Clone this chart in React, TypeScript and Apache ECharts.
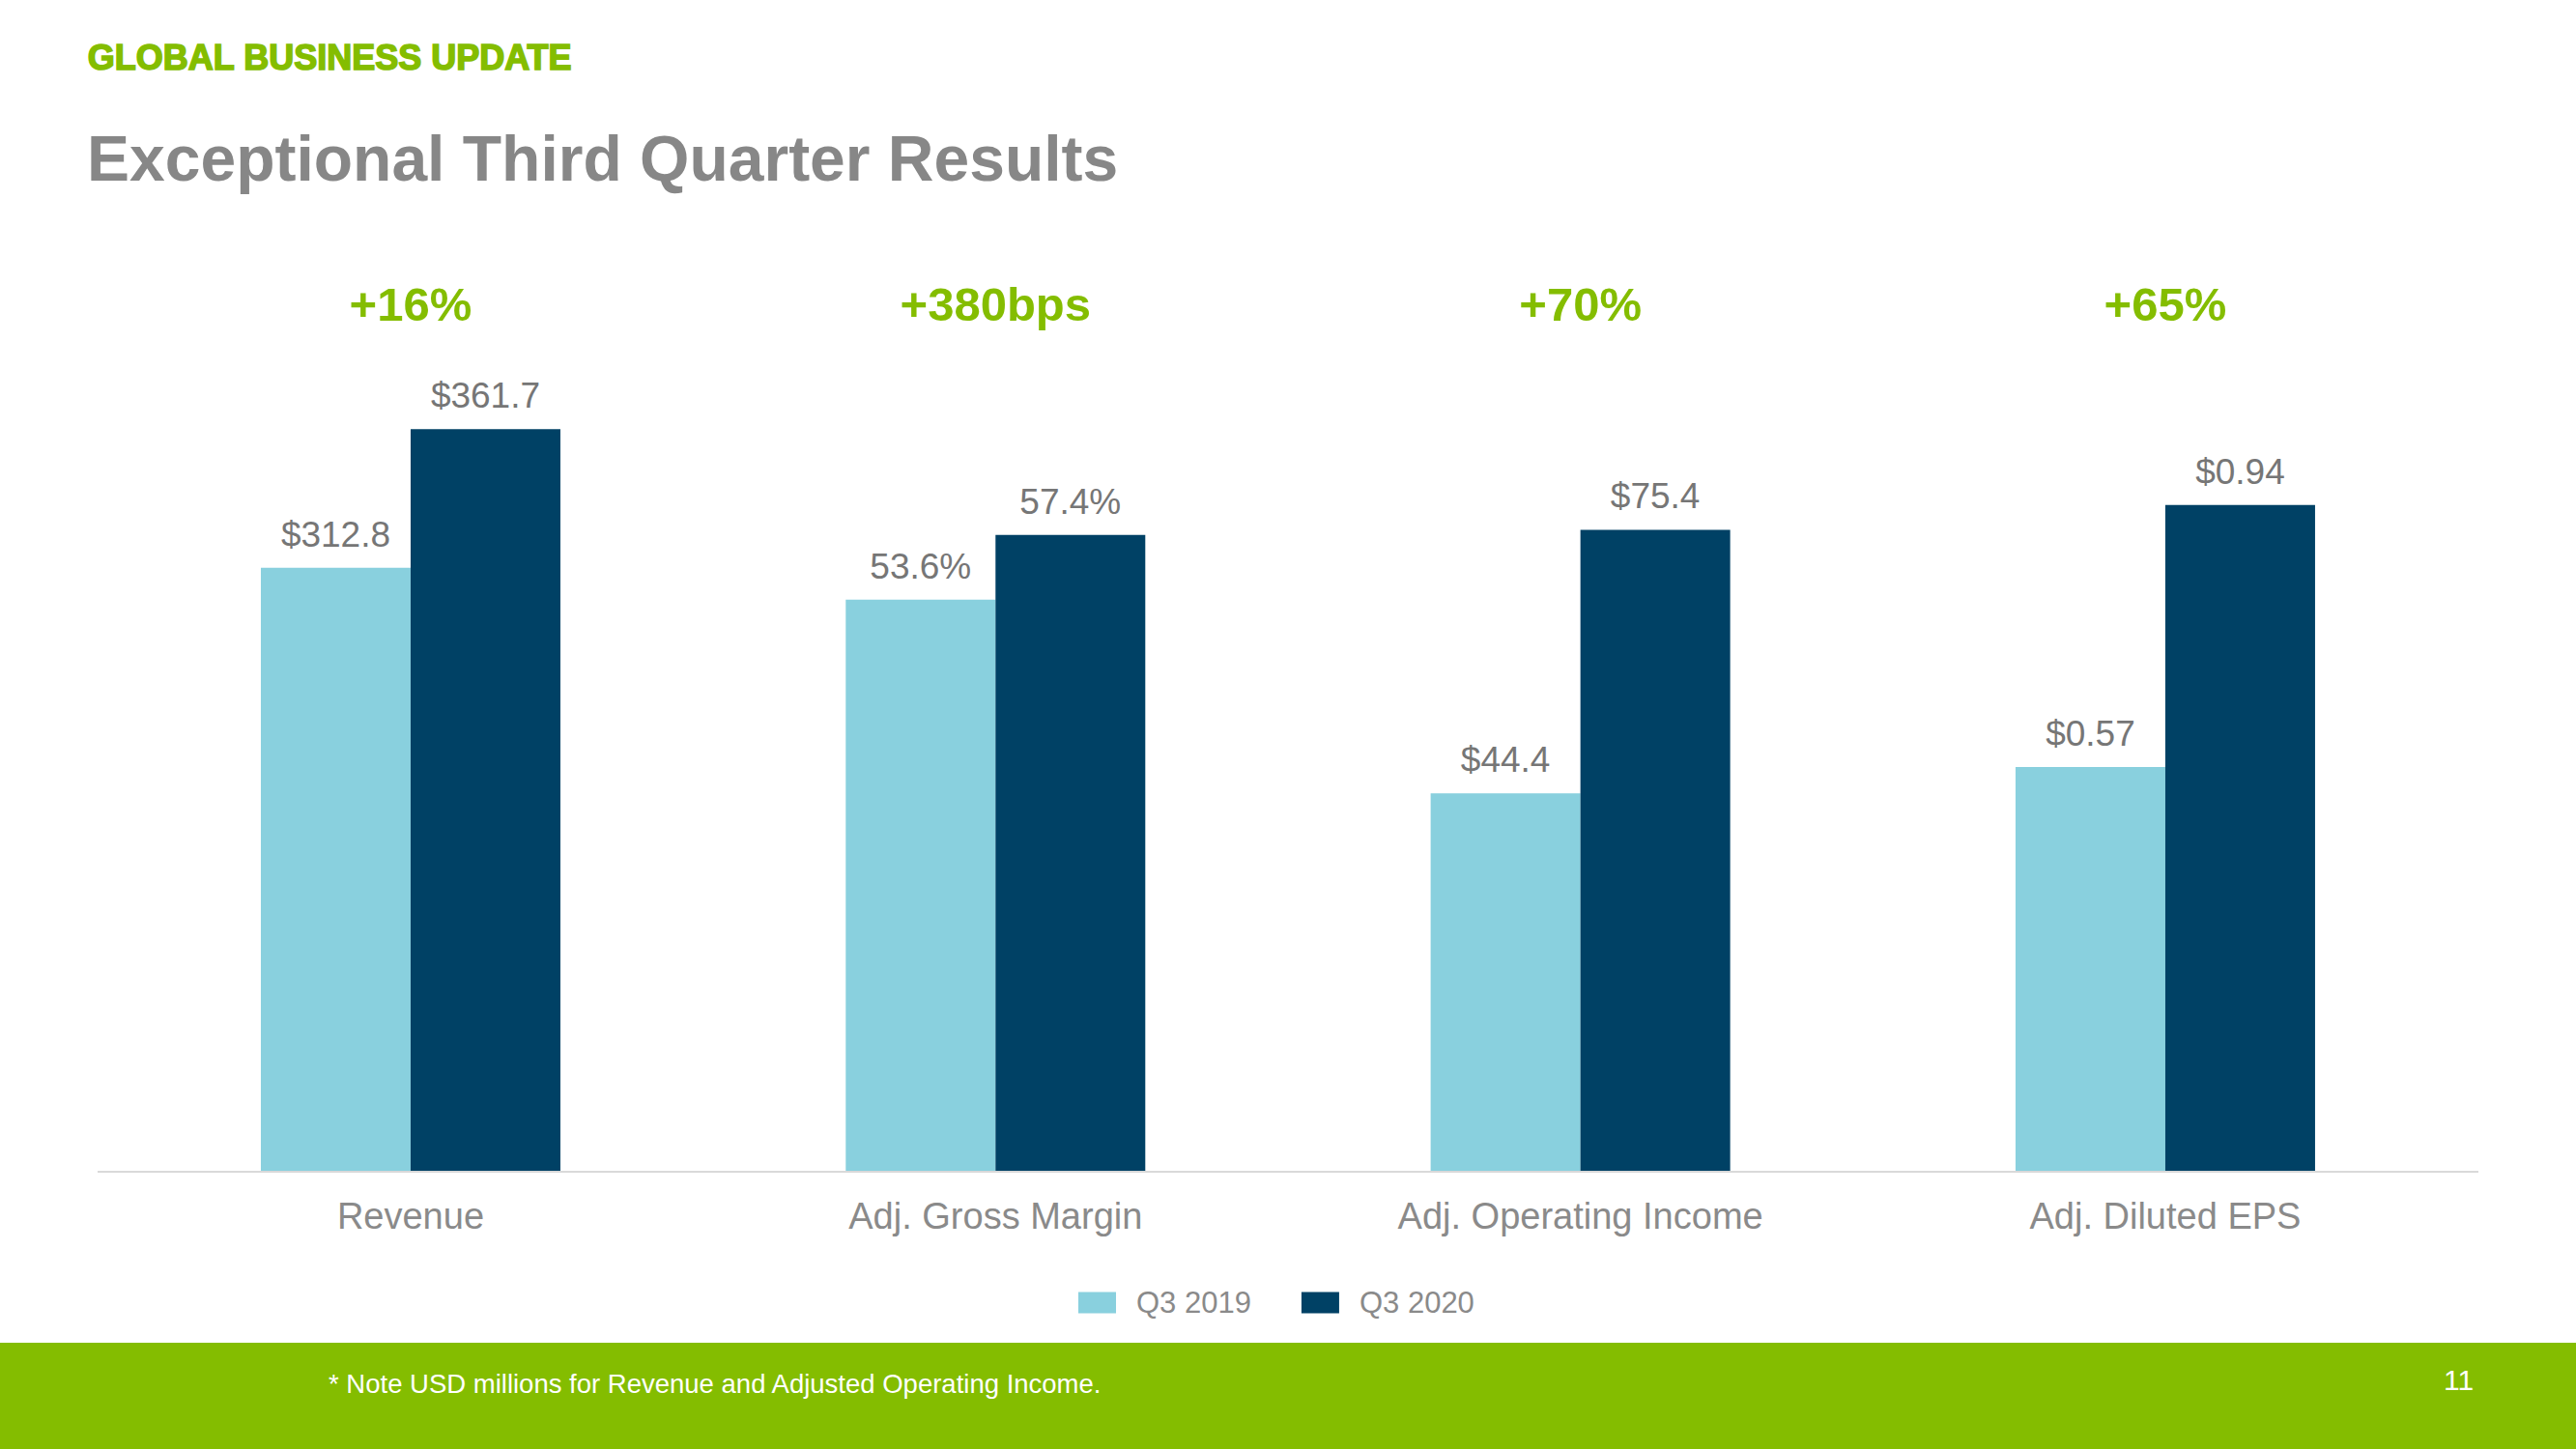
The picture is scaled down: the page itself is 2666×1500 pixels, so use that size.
import React, { useEffect, useRef } from "react";
import * as echarts from "echarts";

const categories = ["Revenue", "Adj. Gross Margin", "Adj. Operating Income", "Adj. Diluted EPS"];
const seriesNames = ["Q3 2019", "Q3 2020"];
const q3_2019 = [312.8, 53.6, 44.4, 0.57];
const q3_2020 = [361.7, 57.4, 75.4, 0.94];
const labels2019 = ["$312.8", "53.6%", "$44.4", "$0.57"];
const labels2020 = ["$361.7", "57.4%", "$75.4", "$0.94"];
const growth = ["+16%", "+380bps", "+70%", "+65%"];
const axisMin = [100, 20, 0, 0];
const axisMax = [400, 70, 100, 1.2];

const FONT = '"Liberation Sans", Arial, sans-serif';
const GREEN = "#84BD00";
const LIGHT = "#89D0DE";
const DARK = "#004165";

export default function App() {
  const ref = useRef<HTMLDivElement>(null);

  useEffect(() => {
    if (!ref.current) return;
    const chart = echarts.init(ref.current, undefined, { renderer: "svg" });

    const cellW = 605.33;
    const left0 = 122.3;
    const grids: any[] = [];
    const xAxes: any[] = [];
    const yAxes: any[] = [];
    const series: any[] = [];

    categories.forEach((cat, i) => {
      grids.push({ left: left0 + cellW * i, width: cellW, top: 332, bottom: 288, containLabel: false });
      xAxes.push({
        type: "category",
        gridIndex: i,
        data: [cat],
        axisLine: { show: false },
        axisTick: { show: false },
        axisLabel: { margin: 28, fontSize: 38, color: "#8a8a8a", fontFamily: FONT },
      });
      xAxes.push({
        type: "category",
        gridIndex: i,
        position: "top",
        data: [growth[i]],
        axisLine: { show: false },
        axisTick: { show: false },
        axisLabel: { margin: -7, fontSize: 49, fontWeight: "bold", color: GREEN, fontFamily: FONT },
      });
      yAxes.push({ type: "value", gridIndex: i, min: axisMin[i], max: axisMax[i], show: false });
      const mk = (name: string, val: number, lbl: string, color: string) => ({
        type: "bar",
        name,
        xAxisIndex: 2 * i,
        yAxisIndex: i,
        data: [val],
        barWidth: 155,
        barGap: "0%",
        clip: true,
        itemStyle: { color },
        label: {
          show: true,
          position: "top",
          distance: 16,
          formatter: lbl,
          fontSize: 37,
          color: "#767676",
          fontFamily: FONT,
        },
      });
      series.push(mk(seriesNames[0], q3_2019[i], labels2019[i], LIGHT));
      series.push(mk(seriesNames[1], q3_2020[i], labels2020[i], DARK));
    });

    chart.setOption({
      animation: false,
      backgroundColor: "#ffffff",
      color: [LIGHT, DARK],
      grid: grids,
      xAxis: xAxes,
      yAxis: yAxes,
      series,
      legend: {
        data: seriesNames,
        left: 1111,
        top: 1328,
        icon: "rect",
        itemWidth: 39,
        itemHeight: 22,
        itemGap: 52,
        textStyle: { fontSize: 31, color: "#8a8a8a", fontFamily: FONT, padding: [0, 0, 0, 16] },
      },
      graphic: [
        {
          type: "text",
          left: 90,
          top: 41,
          style: {
            text: "GLOBAL BUSINESS UPDATE",
            font: `bold 36px ${FONT}`,
            fill: GREEN,
            stroke: GREEN,
            lineWidth: 1.6,
          },
        },
        {
          type: "text",
          left: 90,
          top: 131,
          style: { text: "Exceptional Third Quarter Results", font: `bold 66px ${FONT}`, fill: "#878787" },
        },
        {
          type: "line",
          shape: { x1: 101, y1: 1213, x2: 2565, y2: 1213 },
          style: { stroke: "#d9d9d9", lineWidth: 2 },
        },
        {
          type: "rect",
          shape: { x: 0, y: 1390, width: 2666, height: 110 },
          style: { fill: GREEN },
        },
        {
          type: "text",
          left: 340,
          top: 1418,
          style: { text: "* Note USD millions for Revenue and Adjusted Operating Income.", font: `27.5px ${FONT}`, fill: "#ffffff" },
        },
        {
          type: "text",
          left: 2529,
          top: 1413,
          style: { text: "11", font: `30px ${FONT}`, fill: "#ffffff" },
        },
      ],
    });

    return () => chart.dispose();
  }, []);

  return (
    <div
      ref={ref}
      style={{ position: "fixed", left: 0, top: 0, width: 2666, height: 1500 }}
    />
  );
}
